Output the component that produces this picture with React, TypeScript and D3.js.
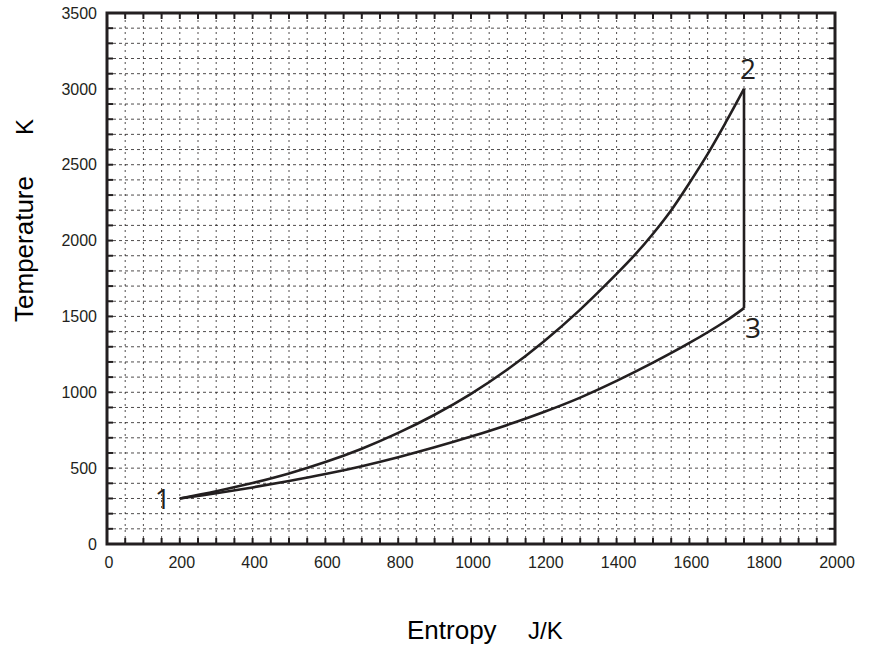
import React, { useEffect, useRef } from 'react';
import * as d3 from 'd3';

const width = 869;
const height = 648;
const margin = { top: 13, right: 34, bottom: 104, left: 107 };

// entropy (J/K) and temperature (K) along the two curves
const entropyUpper = [200, 300, 400, 500, 600, 700, 800, 900, 1000, 1100, 1200, 1300, 1400, 1450, 1500, 1550, 1600, 1650, 1700, 1750];
const tempUpper = [300, 348, 402, 465, 540, 628, 732, 852, 990, 1150, 1335, 1545, 1780, 1905, 2045, 2200, 2380, 2570, 2780, 3000];

const entropyLower = [200, 300, 400, 500, 600, 700, 800, 900, 1000, 1100, 1200, 1300, 1400, 1500, 1600, 1700, 1750];
const tempLower = [300, 335, 373, 415, 461, 513, 572, 637, 708, 785, 870, 965, 1075, 1195, 1325, 1470, 1555];

const stateLabels = ['1', '2', '3'];
const stateEntropy = [200, 1750, 1750];
const stateTemp = [300, 3000, 1555];

const xTickLabels = [0, 200, 400, 600, 800, 1000, 1200, 1400, 1600, 1800, 2000];
const yTickLabels = [0, 500, 1000, 1500, 2000, 2500, 3000, 3500];

const ink = '#231f20';
const font = '"Liberation Sans", Arial, Helvetica, sans-serif';

export default function App() {
  const ref = useRef<SVGSVGElement>(null);

  useEffect(() => {
    document.body.style.margin = '0';
    const svg = d3.select(ref.current);
    svg.selectAll('*').remove();

    const x = d3.scaleLinear().domain([0, 2000]).range([margin.left, width - margin.right]);
    const y = d3.scaleLinear().domain([0, 3500]).range([height - margin.bottom, margin.top]);
    const [x0, x1] = x.range();
    const [y0, y1] = y.range();

    const xMinor = d3.range(0, 2001, 50);
    const yMinor = d3.range(0, 3501, 100);

    // dashed grid
    const grid = svg.append('g');
    grid.selectAll('.hg')
      .data(yMinor.filter((d) => d > 0 && d < 3500))
      .enter()
      .append('line')
      .attr('x1', x0).attr('x2', x1)
      .attr('y1', (d) => y(d)).attr('y2', (d) => y(d))
      .attr('stroke', ink)
      .attr('stroke-width', 0.8)
      .attr('stroke-dasharray', '3,3');
    grid.selectAll('.vg')
      .data(xMinor.filter((d) => d > 0 && d < 2000))
      .enter()
      .append('line')
      .attr('x1', (d) => x(d)).attr('x2', (d) => x(d))
      .attr('y1', y0).attr('y2', y1)
      .attr('stroke', ink)
      .attr('stroke-width', 0.8)
      .attr('stroke-dasharray', '2,4');

    // inward ticks on all four sides
    const tickLen = 6;
    const ticks = svg.append('g').attr('stroke', ink).attr('stroke-width', 2);
    xMinor.forEach((d) => {
      ticks.append('line').attr('x1', x(d)).attr('x2', x(d)).attr('y1', y0).attr('y2', y0 - tickLen);
      ticks.append('line').attr('x1', x(d)).attr('x2', x(d)).attr('y1', y1).attr('y2', y1 + tickLen);
    });
    yMinor.forEach((d) => {
      ticks.append('line').attr('y1', y(d)).attr('y2', y(d)).attr('x1', x0).attr('x2', x0 + tickLen);
      ticks.append('line').attr('y1', y(d)).attr('y2', y(d)).attr('x1', x1).attr('x2', x1 - tickLen);
    });

    // frame
    svg.append('rect')
      .attr('x', x0).attr('y', y1)
      .attr('width', x1 - x0).attr('height', y0 - y1)
      .attr('fill', 'none')
      .attr('stroke', ink)
      .attr('stroke-width', 3);

    // tick labels
    svg.append('g').selectAll('text')
      .data(xTickLabels)
      .enter()
      .append('text')
      .attr('x', (d) => x(d) + 2)
      .attr('y', 568)
      .attr('text-anchor', 'middle')
      .attr('font-family', font)
      .attr('font-size', 16)
      .attr('fill', ink)
      .text((d) => d);
    svg.append('g').selectAll('text')
      .data(yTickLabels)
      .enter()
      .append('text')
      .attr('x', 97)
      .attr('y', (d) => y(d))
      .attr('dy', '0.36em')
      .attr('text-anchor', 'end')
      .attr('font-family', font)
      .attr('font-size', 16)
      .attr('fill', ink)
      .text((d) => d);

    // curves
    const line = d3.line<[number, number]>()
      .x((d) => x(d[0]))
      .y((d) => y(d[1]))
      .curve(d3.curveCatmullRom.alpha(0.5));
    const curves = [
      d3.zip(entropyUpper, tempUpper) as [number, number][],
      d3.zip(entropyLower, tempLower) as [number, number][],
    ];
    svg.append('g').selectAll('path')
      .data(curves)
      .enter()
      .append('path')
      .attr('d', (d) => line(d))
      .attr('fill', 'none')
      .attr('stroke', ink)
      .attr('stroke-width', 2.6);

    // constant-entropy leg 2 -> 3
    svg.append('line')
      .attr('x1', x(stateEntropy[1])).attr('x2', x(stateEntropy[2]))
      .attr('y1', y(stateTemp[1])).attr('y2', y(stateTemp[2]))
      .attr('stroke', ink)
      .attr('stroke-width', 2.6);

    // state point labels
    const labelOffset = [[-25, 11], [-4, -10], [1, 30]];
    svg.append('g').selectAll('text')
      .data(stateLabels)
      .enter()
      .append('text')
      .attr('x', (d, i) => x(stateEntropy[i]) + labelOffset[i][0])
      .attr('y', (d, i) => y(stateTemp[i]) + labelOffset[i][1])
      .attr('font-family', '"Open Sans", sans-serif')
      .attr('font-size', 28)
      .attr('fill', ink)
      .text((d) => d);

    // axis titles
    svg.append('text')
      .attr('x', 407).attr('y', 639)
      .attr('font-family', font).attr('font-size', 26)
      .attr('fill', '#000')
      .text('Entropy');
    svg.append('text')
      .attr('x', 528).attr('y', 639)
      .attr('font-family', font).attr('font-size', 24)
      .attr('fill', '#000')
      .text('J/K');
    svg.append('text')
      .attr('transform', 'translate(33, 249) rotate(-90)')
      .attr('text-anchor', 'middle')
      .attr('font-family', font).attr('font-size', 26)
      .attr('fill', '#000')
      .text('Temperature');
    svg.append('text')
      .attr('transform', 'translate(33, 127) rotate(-90)')
      .attr('text-anchor', 'middle')
      .attr('font-family', font).attr('font-size', 24)
      .attr('fill', '#000')
      .text('K');
  }, []);

  return (
    <svg ref={ref} width={width} height={height} style={{ display: 'block', background: '#fff' }} />
  );
}
